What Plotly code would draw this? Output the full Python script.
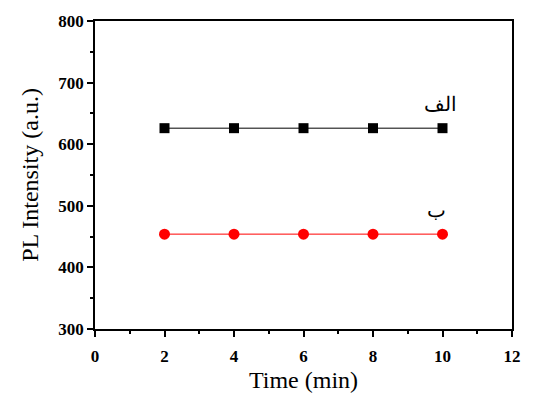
import plotly.graph_objects as go

time_min = [2, 4, 6, 8, 10]
series_a = [626, 626, 626, 626, 626]
series_b = [454, 454, 454, 454, 454]
label_a = "الف"
label_b = "ب"

fig = go.Figure()
fig.add_trace(go.Scatter(x=time_min, y=series_a, mode="lines+markers",
                         line=dict(color="black", width=1),
                         marker=dict(symbol="square", size=10, color="black"),
                         name=label_a, showlegend=False))
fig.add_trace(go.Scatter(x=time_min, y=series_b, mode="lines+markers",
                         line=dict(color="red", width=1),
                         marker=dict(symbol="circle", size=11, color="red"),
                         name=label_b, showlegend=False))

fig.add_annotation(x=time_min[-1], y=series_a[-1], text=label_a, showarrow=False,
                   yshift=25, xshift=-2, font=dict(family="Noto Sans", size=20, color="black"))
fig.add_annotation(x=time_min[-1], y=series_b[-1], text=label_b, showarrow=False,
                   yshift=25, xshift=-6, font=dict(family="Noto Sans", size=20, color="black"))

tick_font = dict(family="Times New Roman", size=17, color="black", weight="bold")
title_font = dict(family="Times New Roman", size=24, color="black")

axis_common = dict(showgrid=False, zeroline=False, showline=True, linecolor="black",
                   linewidth=1.5, mirror=True, ticks="outside", ticklen=6, tickwidth=1.5,
                   tickcolor="black", tickfont=tick_font)

fig.update_xaxes(range=[0, 12], dtick=2, minor=dict(dtick=1, ticks="outside", ticklen=3, tickcolor="black"),
                 ticklabelstandoff=5,
                 title=dict(text="Time (min)", font=title_font, standoff=6),
                 **axis_common)
fig.update_yaxes(range=[300, 800], dtick=100, minor=dict(dtick=50, ticks="outside", ticklen=3, tickcolor="black"),
                 title=dict(text="PL Intensity (a.u.)", font=title_font, standoff=13),
                 **axis_common)

fig.update_layout(width=533, height=404, margin=dict(l=95, r=18, t=18, b=75),
                  plot_bgcolor="white", paper_bgcolor="white")
fig.write_html("out.html")
